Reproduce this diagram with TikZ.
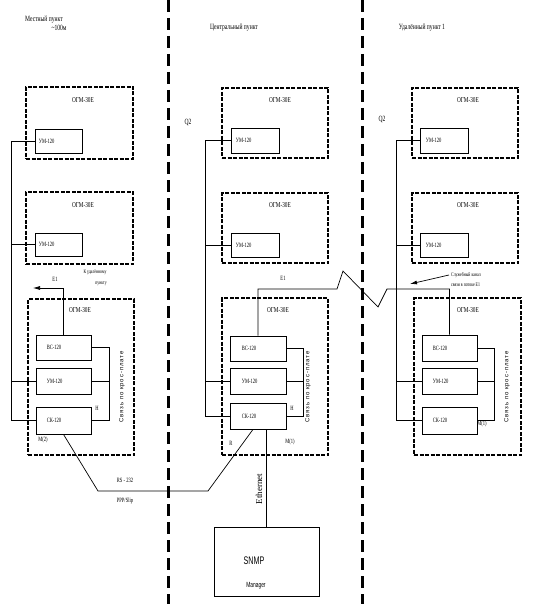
\documentclass[tikz,border=0pt]{standalone}
\usepackage{fontspec}
\newfontfamily\cf[FakeStretch=0.7]{Liberation Serif}
\newfontfamily\sfc[FakeStretch=0.65]{Liberation Sans}
\newfontfamily\spc[LetterSpace=15]{Liberation Sans}
\usetikzlibrary{arrows.meta}
\tikzset{
  sep/.style={line width=3pt, dash pattern=on 12pt off 6pt},
  outer/.style={draw, line width=2pt, dash pattern=on 4pt off 1.5pt, inner sep=0pt},
  mod/.style={draw, line width=0.8pt, inner sep=0pt},
  wire/.style={line width=0.7pt},
  hdr/.style={inner sep=0pt, font=\cf\fontsize{8}{9}\selectfont},
  ttl/.style={inner sep=0pt, font=\cf\fontsize{7.5}{8}\selectfont},
  txt/.style={inner sep=0pt, font=\cf\fontsize{6.5}{7}\selectfont},
  tiny/.style={inner sep=0pt, font=\cf\fontsize{5.5}{6}\selectfont},
  vtxt/.style={inner sep=0pt, rotate=90, font=\spc\fontsize{6}{7}\selectfont},
  arr/.style={wire, -{Latex[length=7pt,width=4pt]}},
}
\begin{document}
\begin{tikzpicture}[x=1pt,y=-1pt]
\useasboundingbox (0,0) rectangle (554,604);
\fill[white] (0,0) rectangle (554,604);

% separators
\coordinate (s1t) at (168,0); \coordinate (s1b) at (168,604);
\coordinate (s2t) at (362,0); \coordinate (s2b) at (362,604);
\draw[sep] (s1t) -- (s1b);
\draw[sep] (s2t) -- (s2b);

% headers
\node[hdr] (h1) at (44,20) {Местный пункт};
\node[hdr] (h1b) at (59,28) {\textasciitilde100м};
\node[hdr] (h2) at (234,28) {Центральный пункт};
\node[hdr] (h3) at (422,28) {Удалённый  пункт 1};

% ---------- left column ----------
\node[outer, minimum width=107, minimum height=72] (L1) at (79.5,123) {};
\node[outer, minimum width=107, minimum height=72] (L2) at (79.5,228) {};
\node[outer, minimum width=106, minimum height=156] (L3) at (81,377) {};
\node[ttl] (L1t) at (83,100) {ОГМ-30Е};
\node[ttl] (L2t) at (83,205) {ОГМ-30Е};
\node[ttl] (L3t) at (80,310) {ОГМ-30Е};
\node[mod, minimum width=47, minimum height=24] (l1um) at (58.5,141) {};
\node[mod, minimum width=47, minimum height=23] (l2um) at (58.5,244.5) {};
\node[mod, minimum width=55, minimum height=25] (l3vs) at (63.5,347.5) {};
\node[mod, minimum width=55, minimum height=26] (l3um) at (63.5,381) {};
\node[mod, minimum width=55, minimum height=27] (l3sk) at (63.5,420.5) {};
\node[txt, anchor=west] (l1umt) at ([xshift=4]l1um.west) {УМ-120};
\node[txt, anchor=west] (l2umt) at ([xshift=4]l2um.west) {УМ-120};
\node[txt, anchor=west] (l3vst) at ([xshift=11]l3vs.west) {ВС-120};
\node[txt, anchor=west] (l3umt) at ([xshift=11]l3um.west) {УМ-120};
\node[txt, anchor=west] (l3skt) at ([xshift=11]l3sk.west) {СК-120};
\coordinate (lbx) at (11,0);
\coordinate (lrx) at (109,0);
\draw[wire] (l1um.west) -- (l1um.west -| lbx) -- (l3sk.west -| lbx) -- (l3sk.west);
\draw[wire] (l2um.west) -- (l2um.west -| lbx);
\draw[wire] (l3um.west) -- (l3um.west -| lbx);
\draw[wire] (l3vs.east) -- (l3vs.east -| lrx) -- (l3sk.east -| lrx) -- (l3sk.east);
\draw[wire] (l3um.east) -- (l3um.east -| lrx);
\node[txt] (lH) at (97,408) {Н};
\node[txt] (lM) at (43,440) {М(2)};
\node[vtxt] (lv) at (122,387) {Связь по крос-плате};
\coordinate (lE1) at (33,288);
\draw[arr] (l3vs.north) |- (lE1);
\node[txt] (lE1t) at (55,279) {Е1};
\node[tiny] (lk1) at (95,272) {К удалённому};
\node[tiny] (lk2) at (101,284) {пункту};

% ---------- middle column ----------
\node[outer, minimum width=106, minimum height=70] (M1) at (275,123) {};
\node[outer, minimum width=106, minimum height=70] (M2) at (275,228) {};
\node[outer, minimum width=106, minimum height=157] (M3) at (275,376.5) {};
\node[ttl] (M1t) at (280,100) {ОГМ-30Е};
\node[ttl] (M2t) at (280,205) {ОГМ-30Е};
\node[ttl] (M3t) at (278,310) {ОГМ-30Е};
\node[mod, minimum width=48, minimum height=25] (m1um) at (255,140.5) {};
\node[mod, minimum width=48, minimum height=24] (m2um) at (255,245) {};
\node[mod, minimum width=56, minimum height=25] (m3vs) at (258,348.5) {};
\node[mod, minimum width=56, minimum height=26] (m3um) at (258,381) {};
\node[mod, minimum width=56, minimum height=26] (m3sk) at (258,416) {};
\node[txt, anchor=west] (m1umt) at ([xshift=5]m1um.west) {УМ-120};
\node[txt, anchor=west] (m2umt) at ([xshift=5]m2um.west) {УМ-120};
\node[txt, anchor=west] (m3vst) at ([xshift=12]m3vs.west) {ВС-120};
\node[txt, anchor=west] (m3umt) at ([xshift=12]m3um.west) {УМ-120};
\node[txt, anchor=west] (m3skt) at ([xshift=12]m3sk.west) {СК-120};
\node[hdr] (mq) at (188,123) {Q2};
\coordinate (mbx) at (205,0);
\coordinate (mrx) at (303,0);
\draw[wire] (m1um.west) -- (m1um.west -| mbx) -- (m3sk.west -| mbx) -- (m3sk.west);
\draw[wire] (m2um.west) -- (m2um.west -| mbx);
\draw[wire] (m3um.west) -- (m3um.west -| mbx);
\draw[wire] (m3vs.east) -- (m3vs.east -| mrx) -- (m3sk.east -| mrx) -- (m3sk.east);
\draw[wire] (m3um.east) -- (m3um.east -| mrx);
\node[txt] (mH) at (292,408) {Н};
\node[txt] (mR) at (231,443) {R};
\node[txt] (mM) at (290,442) {М(1)};
\node[vtxt] (mv) at (308,387) {Связь по крос-плате};
\node[txt] (mE1t) at (283,278) {Е1};

% ---------- right column ----------
\node[outer, minimum width=106, minimum height=70] (R1) at (465,123) {};
\node[outer, minimum width=106, minimum height=70] (R2) at (465,228) {};
\node[outer, minimum width=107, minimum height=157] (R3) at (467.5,376.5) {};
\node[ttl] (R1t) at (468,100) {ОГМ-30Е};
\node[ttl] (R2t) at (468,205) {ОГМ-30Е};
\node[ttl] (R3t) at (468,310) {ОГМ-30Е};
\node[mod, minimum width=48, minimum height=25] (r1um) at (444,140.5) {};
\node[mod, minimum width=48, minimum height=24] (r2um) at (444,245) {};
\node[mod, minimum width=55, minimum height=26] (r3vs) at (449.5,348) {};
\node[mod, minimum width=55, minimum height=26] (r3um) at (449.5,381) {};
\node[mod, minimum width=55, minimum height=27] (r3sk) at (449.5,420.5) {};
\node[txt, anchor=west] (r1umt) at ([xshift=6]r1um.west) {УМ-120};
\node[txt, anchor=west] (r2umt) at ([xshift=6]r2um.west) {УМ-120};
\node[txt, anchor=west] (r3vst) at ([xshift=11]r3vs.west) {ВС-120};
\node[txt, anchor=west] (r3umt) at ([xshift=11]r3um.west) {УМ-120};
\node[txt, anchor=west] (r3skt) at ([xshift=11]r3sk.west) {СК-120};
\node[hdr] (rq) at (382,120) {Q2};
\coordinate (rbx) at (396,0);
\coordinate (rrx) at (494,0);
\draw[wire] (r1um.west) -- (r1um.west -| rbx) -- (r3sk.west -| rbx) -- (r3sk.west);
\draw[wire] (r2um.west) -- (r2um.west -| rbx);
\draw[wire] (r3um.west) -- (r3um.west -| rbx);
\draw[wire] (r3vs.east) -- (r3vs.east -| rrx) -- (r3sk.east -| rrx) -- (r3sk.east);
\draw[wire] (r3um.east) -- (r3um.east -| rrx);
\node[txt] (rM) at (482,424) {М(1)};
\node[vtxt] (rv) at (507,387) {Связь по крос-плате};
\node[tiny, anchor=west] (ann1) at (451,275) {Служебный канал};
\node[tiny, anchor=west] (ann2) at (451,285) {связи в потоке Е1};
\coordinate (annt) at (410,284);
\draw[arr] ([xshift=-2]ann1.west) -- (annt);

% E1 link between central and remote
\coordinate (z1) at (337,289);
\coordinate (z2) at (343,271);
\coordinate (z3) at (378,307);
\coordinate (z4) at (387,289);
\draw[wire] (m3vs.north) |- (z1) -- (z2) -- (z3) -- (z4) -| (r3vs.north);

% RS-232 link
\coordinate (d1) at (98,491);
\coordinate (d2) at (208,491);
\draw[wire] (l3sk.south) -- (d1) -- (d2) -- ([xshift=-5]m3sk.south);
\node[txt] (rs) at (125,480) {RS - 232};
\node[txt] (ppp) at (125,501) {PPP/Slip};

% SNMP manager
\node[mod, minimum width=105, minimum height=69] (snmp) at (266.5,561.5) {};
\node[inner sep=0pt, font=\sfc\fontsize{11}{12}\selectfont] (snmpt) at (254,561) {SNMP};
\node[inner sep=0pt, font=\sfc\fontsize{7.5}{8}\selectfont] (mgr) at (256,586) {Manager};
\draw[wire] (m3sk.south -| snmp.north) -- (snmp.north);
\node[inner sep=0pt, rotate=90, font=\fontspec{Liberation Serif}\fontsize{9}{10}\selectfont] (eth) at (259,489) {Ethernet};
\end{tikzpicture}
\end{document}
